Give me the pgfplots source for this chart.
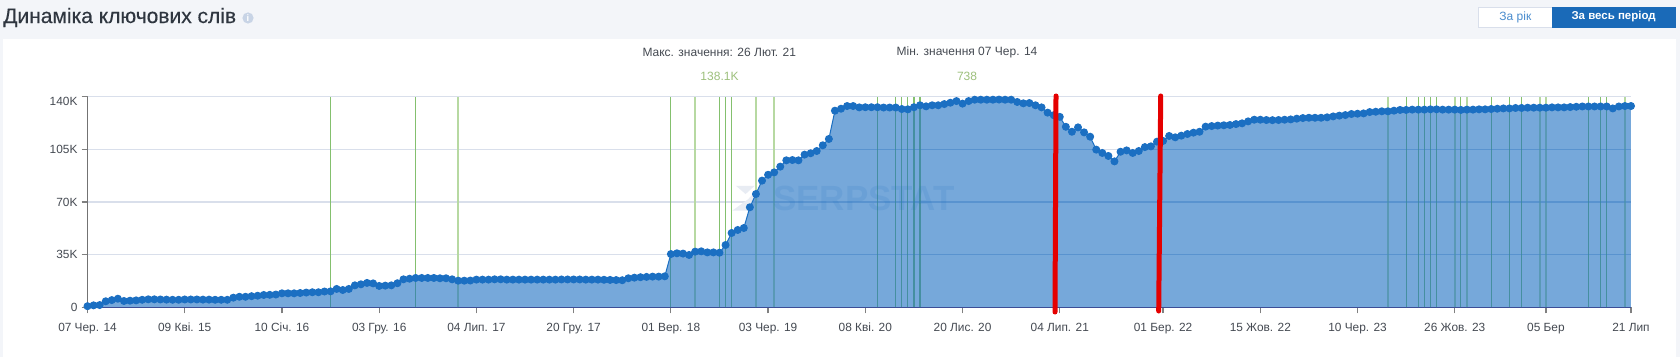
\documentclass[border=0pt]{standalone}
\usepackage{pgfplots}
\usepackage{pgfplotstable}
\usepackage{fontspec}
\pgfplotsset{compat=1.18}
\setmainfont{Liberation Sans}
\newfontfamily\titlefont[FakeBold=0.25]{Liberation Sans}
\definecolor{pagebg}{HTML}{F3F5F9}
\definecolor{mainblue}{HTML}{1B6FC2}
\definecolor{gridc}{HTML}{D9DFEB}
\definecolor{txt}{HTML}{454A52}
\definecolor{thing}{HTML}{84C06E}
\definecolor{thickg}{HTML}{B7D9A2}
\definecolor{valg}{HTML}{9DC07C}
\definecolor{titlec}{HTML}{2F3640}
\definecolor{infoc}{HTML}{C8D4E6}
\pgfplotstableread[row sep=\\]{
i v\\
0 0.74\\1 1.3\\2 1.5\\3 4.0\\4 4.8\\5 5.7\\6 4.2\\7 4.4\\8 4.6\\9 5.0\\10 5.3\\11 5.3\\12 5.2\\13 5.1\\14 5.0\\15 5.0\\16 5.2\\17 5.2\\18 5.2\\19 5.1\\20 5.1\\21 5.0\\22 5.0\\23 5.0\\24 6.4\\25 7.0\\26 7.0\\27 7.4\\28 7.7\\29 8.2\\30 8.3\\31 8.5\\32 9.3\\33 9.3\\34 9.3\\35 9.5\\36 9.8\\37 10.0\\38 10.0\\39 10.5\\40 10.6\\41 12.2\\42 11.5\\43 12.2\\44 14.6\\45 15.3\\46 16.2\\47 15.9\\48 14.2\\49 14.4\\50 14.6\\51 16.0\\52 18.6\\53 19.0\\54 19.5\\55 19.5\\56 19.5\\57 19.5\\58 19.3\\59 19.3\\60 18.6\\61 17.7\\62 17.7\\63 17.8\\64 18.4\\65 18.4\\66 18.4\\67 18.6\\68 18.6\\69 18.4\\70 18.4\\71 18.4\\72 18.4\\73 18.4\\74 18.4\\75 18.4\\76 18.4\\77 18.4\\78 18.5\\79 18.5\\80 18.5\\81 18.5\\82 18.4\\83 18.4\\84 18.4\\85 18.3\\86 18.2\\87 18.1\\88 18.0\\89 19.3\\90 19.7\\91 20.0\\92 20.2\\93 20.4\\94 20.4\\95 20.6\\96 35.4\\97 35.9\\98 35.7\\99 34.8\\100 37.0\\101 37.2\\102 36.5\\103 36.5\\104 36.3\\105 41.4\\106 49.4\\107 51.4\\108 52.7\\109 66.5\\110 75.3\\111 84.2\\112 88.1\\113 89.7\\114 93.5\\115 97.7\\116 97.9\\117 97.7\\118 101.5\\119 102.4\\120 103.9\\121 107.7\\122 111.9\\123 130.7\\124 132.0\\125 133.8\\126 133.8\\127 132.9\\128 133.0\\129 133.0\\130 133.0\\131 132.8\\132 132.8\\133 132.8\\134 131.8\\135 131.6\\136 133.0\\137 134.3\\138 133.6\\139 134.3\\140 134.3\\141 135.1\\142 136.0\\143 137.1\\144 135.4\\145 137.1\\146 138.0\\147 138.0\\148 138.0\\149 138.0\\150 138.1\\151 138.0\\152 138.0\\153 136.5\\154 135.6\\155 135.8\\156 134.3\\157 132.9\\158 129.4\\159 127.7\\160 126.6\\161 120.0\\162 116.7\\163 119.6\\164 116.3\\165 113.4\\166 104.8\\167 102.6\\168 100.6\\169 97.0\\170 103.4\\171 104.3\\172 102.6\\173 103.9\\174 106.5\\175 107.0\\176 110.1\\177 110.6\\178 113.9\\179 113.0\\180 114.1\\181 115.2\\182 116.1\\183 116.7\\184 120.1\\185 120.5\\186 120.8\\187 121.0\\188 121.2\\189 121.8\\190 122.3\\191 123.6\\192 124.7\\193 124.7\\194 124.5\\195 124.4\\196 124.5\\197 124.7\\198 124.9\\199 125.4\\200 125.8\\201 126.0\\202 126.0\\203 126.0\\204 126.3\\205 126.9\\206 127.4\\207 127.8\\208 128.5\\209 128.7\\210 128.9\\211 129.8\\212 130.0\\213 130.3\\214 130.3\\215 130.7\\216 131.2\\217 131.2\\218 131.4\\219 131.4\\220 131.4\\221 131.6\\222 131.6\\223 131.4\\224 131.4\\225 131.4\\226 131.2\\227 131.4\\228 131.4\\229 131.6\\230 131.6\\231 131.8\\232 132.0\\233 132.2\\234 132.2\\235 132.5\\236 132.5\\237 132.7\\238 132.7\\239 132.7\\240 132.7\\241 132.9\\242 132.9\\243 132.9\\244 133.1\\245 133.3\\246 133.5\\247 133.5\\248 133.5\\249 133.5\\250 133.5\\251 132.2\\252 133.5\\253 133.8\\254 133.8\\
}\kw
\begin{document}
\begin{tikzpicture}
\useasboundingbox (0,0) rectangle (1260pt,267.75pt);
\begin{scope}[x=.75pt,y=-.75pt,yshift=267.75pt]
\fill[pagebg] (0,0) rectangle (1680,357);
\fill[white] (3,39) rectangle (1676,357);
\node[anchor=west,inner sep=0,font=\titlefont\fontsize{15.75pt}{18pt}\selectfont,text=titlec] at (3,17.5) {Динаміка ключових слів};
\fill[infoc] (248,18) circle (5.6);
\node[text=white,inner sep=0,font=\bfseries\fontsize{7pt}{8pt}\selectfont] at (248,18) {i};
\fill[white,draw=gridc,line width=.75pt] (1478,7.5) rectangle (1552,27.5);
\fill[mainblue!95!black] (1552,7) rectangle (1676,28);
\node[text=mainblue!80!white,inner sep=0,font=\fontsize{9pt}{11pt}\selectfont] at (1515.4,17) {За рік};
\node[text=white,inner sep=0,font=\bfseries\fontsize{8.6pt}{11pt}\selectfont] at (1613.6,17) {За весь період};
\node[text=txt,inner sep=0,font=\fontsize{9pt}{11pt}\selectfont] at (719.3,52.7) {Макс. значення: 26 Лют. 21};
\node[text=txt,inner sep=0,font=\fontsize{9pt}{11pt}\selectfont] at (967,52.7) {Мін. значення 07 Чер. 14};
\node[text=valg,inner sep=0,font=\fontsize{9pt}{11pt}\selectfont] at (719.5,76.7) {138.1K};
\node[text=valg,inner sep=0,font=\fontsize{9pt}{11pt}\selectfont] at (967,76.7) {738};
\end{scope}
\begin{axis}[
  at={(65.625pt,37.275pt)},anchor=south west,scale only axis,
  width=1157.625pt,height=157.95pt,
  xmin=0,xmax=254,ymin=0,ymax=140,
  clip=false,
  axis lines=left,axis line style={-},
  x axis line style={color=black!40!blue!45!gray,line width=.9pt},
  y axis line style={color=black!55,line width=1pt},
  xtick={0,16,32,48,64,80,96,112,128,144,160,177,193,209,225,240,254},
  xticklabels={07 Чер. 14,09 Квi. 15,10 Січ. 16,03 Гру. 16,04 Лип. 17,20 Гру. 17,01 Вер. 18,03 Чер. 19,08 Квi. 20,20 Лис. 20,04 Лип. 21,01 Бер. 22,15 Жов. 22,10 Чер. 23,26 Жов. 23,05 Бер,21 Лип},
  ytick={0,35,70,105,140},
  yticklabels={0,35K,70K,105K,\raisebox{-3.75pt}[6.3pt][0pt]{140K}},
  ymajorgrids,
  major grid style={color=gridc,line width=1pt},
  tick style={color=black!50,line width=.9pt},
  tick align=outside,major tick length=4.5pt,
  ticklabel style={font=\fontsize{8.9pt}{11pt}\selectfont,text=txt},
  xticklabel style={yshift=-3.6pt},
  yticklabel style={xshift=0.5pt},
]
\fill[gridc!60!white] (axis cs:106.7,80.8) -- (axis cs:109.8,80.8) -- (axis cs:108.3,75.3) -- cycle;
\fill[gridc!60!white] (axis cs:106.1,64.2) -- (axis cs:108.7,71.8) -- (axis cs:110.4,79.1) -- (axis cs:110.4,69.1) -- (axis cs:108.7,64.2) -- cycle;
\addplot[ycomb,no marks,thing,line width=.9pt] coordinates {(40,140)(54,140)(96,140)(104,140)(105,140)(106,140)(130,140)(133,140)(134,140)(135,140)(136,140)(137,140)(217,140)(219,140)(220,140)(221,140)(222,140)(226,140)(231,140)(234,140)(236,140)(247,140)(249,140)(250,140)};
\addplot[ycomb,no marks,thickg,line width=1.5pt] coordinates {(61,140)(100,140)(110,140)(113,140)(214,140)(225,140)(227,140)(239,140)(240,140)(253,140)};
\addplot[draw=none,fill=mainblue,fill opacity=.6] table[x=i,y=v] {\kw} \closedcycle;
\addplot[no marks,mainblue,opacity=.18,line width=1pt] coordinates {(96,35)(254,35)};
\addplot[no marks,mainblue,opacity=.18,line width=1pt] coordinates {(109.4,70)(254,70)};
\addplot[no marks,mainblue,opacity=.18,line width=1pt] coordinates {(122,105)(165.9,105)};
\addplot[no marks,mainblue,opacity=.18,line width=1pt] coordinates {(173.4,105)(254,105)};
\node[anchor=west,inner sep=0,text=mainblue,opacity=.13,font=\bfseries\fontsize{26.2pt}{28pt}\selectfont] at (axis cs:112.8,72.2) {SERPSTAT};
\addplot[mainblue,line width=.75pt,mark=*,mark size=2.6pt,mark options={draw=none,fill=mainblue}] table[x=i,y=v] {\kw};
\end{axis}
\begin{scope}[x=.75pt,y=-.75pt,yshift=267.75pt]
\draw[red!90!black,line width=3.75pt,line cap=round] (1056,96) -- (1055,312);
\draw[red!90!black,line width=3.75pt,line cap=round] (1160.7,96) -- (1158.7,311);
\end{scope}
\end{tikzpicture}
\end{document}
